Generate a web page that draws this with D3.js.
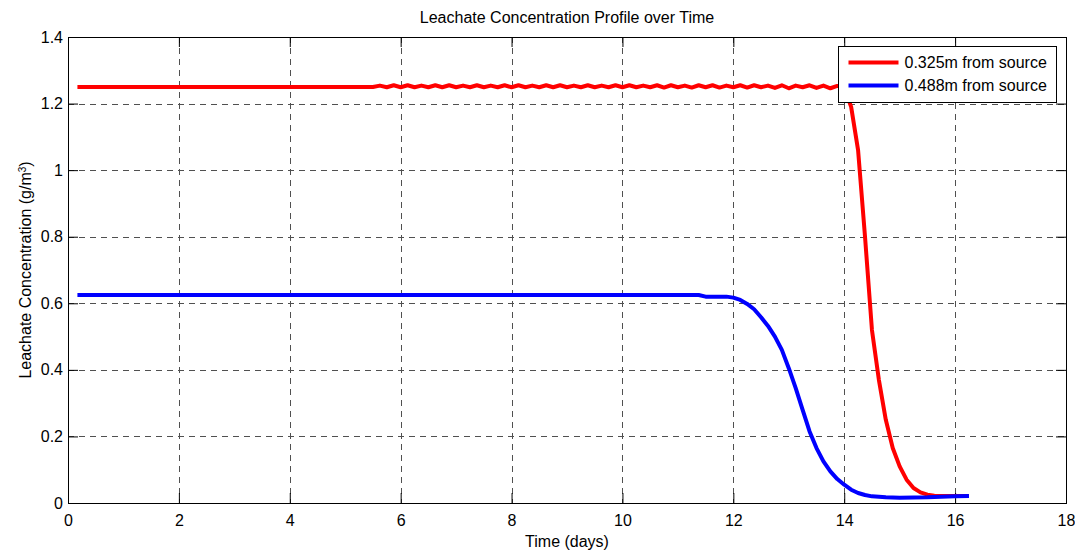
<!DOCTYPE html>
<html>
<head>
<meta charset="utf-8">
<script src="https://cdn.jsdelivr.net/npm/d3@7"></script>
<style>
  body { margin: 0; background: #fff; }
  text { font-family: "Liberation Sans", Arial, sans-serif; fill: #000; }
</style>
</head>
<body>
<svg id="chart" width="1075" height="554"></svg>
<script>
// --- data
const xTicks = [0, 2, 4, 6, 8, 10, 12, 14, 16, 18];
const yTicks = [0, 0.2, 0.4, 0.6, 0.8, 1, 1.2, 1.4];
const seriesNames = ['0.325m from source', '0.488m from source'];

// 0.325m: flat, then small oscillation, then the sharp drop
const redTime = [
  0.17, 5.5, 5.625, 5.75, 5.875, 6, 6.125, 6.25, 6.375, 6.5, 6.625, 6.75, 6.875,
  7, 7.125, 7.25, 7.375, 7.5, 7.625, 7.75, 7.875, 8, 8.125, 8.25, 8.375, 8.5,
  8.625, 8.75, 8.875, 9, 9.125, 9.25, 9.375, 9.5, 9.625, 9.75, 9.875, 10,
  10.125, 10.25, 10.375, 10.5, 10.625, 10.75, 10.875, 11, 11.125, 11.25, 11.375,
  11.5, 11.625, 11.75, 11.875, 12, 12.125, 12.25, 12.375, 12.5, 12.625, 12.75,
  12.875, 13, 13.125, 13.25, 13.375, 13.5, 13.625, 13.75, 13.875, 14,
  14.125, 14.25, 14.375, 14.5, 14.625, 14.75, 14.875, 15, 15.125, 15.25, 15.375,
  15.5, 15.625, 15.75, 16.25
];
const redConc = [
  1.25, 1.25, 1.254, 1.249, 1.255, 1.249, 1.255, 1.249, 1.254, 1.249, 1.255, 1.249, 1.255,
  1.249, 1.254, 1.249, 1.255, 1.249, 1.254, 1.249, 1.255, 1.249, 1.255, 1.249, 1.254, 1.249,
  1.255, 1.249, 1.255, 1.249, 1.254, 1.249, 1.255, 1.249, 1.254, 1.249, 1.255, 1.249,
  1.255, 1.249, 1.254, 1.249, 1.255, 1.248, 1.255, 1.249, 1.254, 1.248, 1.255,
  1.249, 1.255, 1.248, 1.254, 1.249, 1.255, 1.248, 1.255, 1.249, 1.254, 1.247,
  1.255, 1.246, 1.254, 1.249, 1.255, 1.247, 1.254, 1.246, 1.253, 1.248,
  1.19, 1.06, 0.80, 0.52, 0.37, 0.25, 0.165, 0.11, 0.07, 0.045, 0.032,
  0.025, 0.022, 0.021, 0.021
];

// 0.488m: flat, then the S-shaped decline
const blueTime = [
  0.17, 11.375, 11.5, 11.875, 12, 12.125, 12.25, 12.375, 12.5, 12.625, 12.75,
  12.875, 13, 13.125, 13.25, 13.375, 13.5, 13.625, 13.75, 13.875, 14, 14.125,
  14.25, 14.375, 14.5, 14.75, 15, 15.5, 16, 16.25
];
const blueConc = [
  0.625, 0.625, 0.62, 0.62, 0.617, 0.61, 0.598, 0.582, 0.558, 0.532, 0.50,
  0.46, 0.405, 0.345, 0.28, 0.215, 0.165, 0.125, 0.095, 0.072, 0.055, 0.04,
  0.03, 0.024, 0.02, 0.017, 0.016, 0.017, 0.02, 0.021
];

const colors = ['#ff0000', '#0000ff'];

// --- layout
const svg = d3.select('#chart');
const margin = { top: 37, right: 9, bottom: 51, left: 68 };
const width = 1075 - margin.left - margin.right;
const height = 554 - margin.top - margin.bottom;
const fontSize = '16px';

const x = d3.scaleLinear().domain([0, 18]).range([0, width]);
const y = d3.scaleLinear().domain([0, 1.4]).range([height, 0]);

svg.append('rect').attr('width', 1075).attr('height', 554).attr('fill', '#fff');

const g = svg.append('g').attr('transform', `translate(${margin.left},${margin.top})`);

// grid (dashed, drawn under the lines)
const grid = g.append('g').attr('class', 'grid');
grid.selectAll('.vgrid')
  .data(xTicks.slice(1, -1))
  .enter()
  .append('line')
  .attr('x1', d => Math.round(x(d)) + 0.5)
  .attr('x2', d => Math.round(x(d)) + 0.5)
  .attr('y1', 0)
  .attr('y2', height)
  .attr('stroke', '#505050')
  .attr('stroke-dasharray', '6,5');
grid.selectAll('.hgrid')
  .data(yTicks.slice(1, -1))
  .enter()
  .append('line')
  .attr('y1', d => Math.round(y(d)) + 0.5)
  .attr('y2', d => Math.round(y(d)) + 0.5)
  .attr('x1', 0)
  .attr('x2', width)
  .attr('stroke', '#505050')
  .attr('stroke-dasharray', '6,5');

// axes with inward ticks on all four sides
const tickLen = 10;
g.append('g')
  .attr('transform', `translate(0,${height})`)
  .call(d3.axisBottom(x).tickValues(xTicks).tickSize(-tickLen).tickPadding(12).tickFormat(d3.format('')));
g.append('g')
  .call(d3.axisLeft(y).tickValues(yTicks).tickSize(-tickLen).tickPadding(5).tickFormat(d3.format('')));
g.append('g')
  .call(d3.axisTop(x).tickValues(xTicks).tickSize(-tickLen).tickFormat(''));
g.append('g')
  .attr('transform', `translate(${width},0)`)
  .call(d3.axisRight(y).tickValues(yTicks).tickSize(-tickLen).tickFormat(''));

g.selectAll('.domain').remove();
g.selectAll('.tick line').attr('stroke', '#000');
g.selectAll('.tick text')
  .style('font-family', '"Liberation Sans", Arial, sans-serif')
  .style('font-size', fontSize)
  .attr('fill', '#000');

// box
g.append('rect')
  .attr('x', 0.5)
  .attr('y', 0.5)
  .attr('width', width)
  .attr('height', height)
  .attr('fill', 'none')
  .attr('stroke', '#000');

// lines
const line = d3.line()
  .x(d => x(d[0]))
  .y(d => y(d[1]));

const series = [
  d3.zip(redTime, redConc),
  d3.zip(blueTime, blueConc)
];

g.selectAll('.series')
  .data(series)
  .enter()
  .append('path')
  .attr('class', 'series')
  .attr('d', line)
  .attr('fill', 'none')
  .attr('stroke', (d, i) => colors[i])
  .attr('stroke-width', 4)
  .attr('stroke-linejoin', 'round');

// legend
const legend = svg.append('g').attr('transform', 'translate(838.5,46.5)');
legend.append('rect')
  .attr('width', 218)
  .attr('height', 56)
  .attr('fill', '#fff')
  .attr('stroke', '#000');
const item = legend.selectAll('.item')
  .data(seriesNames)
  .enter()
  .append('g')
  .attr('transform', (d, i) => `translate(0,${16 + i * 23})`);
item.append('line')
  .attr('x1', 10)
  .attr('x2', 60)
  .attr('stroke', (d, i) => colors[i])
  .attr('stroke-width', 4);
item.append('text')
  .attr('x', 66)
  .attr('y', 5.5)
  .style('font-size', fontSize)
  .text(d => d);

// titles
svg.append('text')
  .attr('x', margin.left + width / 2)
  .attr('y', 23)
  .attr('text-anchor', 'middle')
  .style('font-size', fontSize)
  .text('Leachate Concentration Profile over Time');

svg.append('text')
  .attr('x', margin.left + width / 2)
  .attr('y', 547)
  .attr('text-anchor', 'middle')
  .style('font-size', fontSize)
  .text('Time (days)');

const yLabel = svg.append('text')
  .attr('transform', `translate(31,${margin.top + height / 2}) rotate(-90)`)
  .attr('text-anchor', 'middle')
  .style('font-size', fontSize);
yLabel.append('tspan').text('Leachate Concentration (g/m');
yLabel.append('tspan').attr('baseline-shift', 'super').style('font-size', '10px').text('3');
yLabel.append('tspan').text(')');
</script>
</body>
</html>
